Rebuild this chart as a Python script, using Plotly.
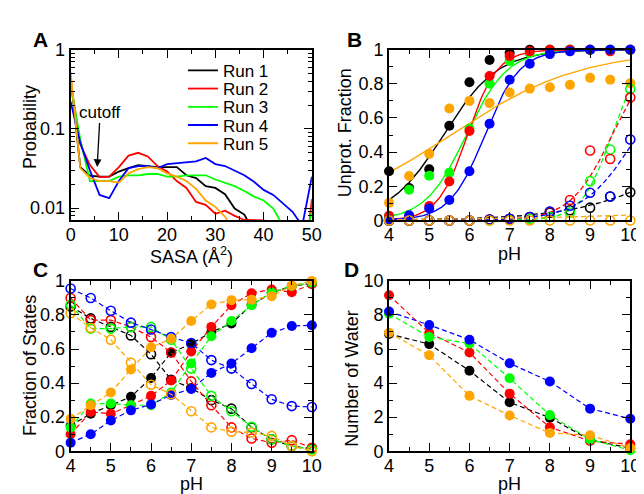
import plotly.graph_objects as go
import numpy as np

W, H = 644, 494
FONT = "Liberation Sans, Arial, Helvetica, sans-serif"

colors = ["#000000", "#ff0000", "#00ff00", "#0000ff", "#ffa500"]
run_names = ["Run 1", "Run 2", "Run 3", "Run 4", "Run 5"]

# ---------- Panel A: SASA probability ----------
sasa = [0, 2, 4, 6, 8, 10, 12, 14, 16, 18, 20, 22, 24, 26, 28, 30, 32, 34, 36, 38, 40, 42, 44, 46, 48, 50]
prob_run1 = [0.45, 0.033, 0.0257, 0.025, 0.025, 0.029, 0.032, 0.035, 0.034, 0.033, 0.033, 0.033, 0.026,
             0.024, 0.019, 0.018, 0.015, 0.0099, 0.0083, 0.005, 0.002, 0.002, 0.002, 0.002, 0.002, 0.005]
prob_run2 = [0.40, 0.064, 0.035, 0.0247, 0.025, 0.033, 0.046, 0.050, 0.045, 0.034, 0.029, 0.022, 0.018,
             0.012, 0.011, 0.0085, 0.0093, 0.0080, 0.0071, 0.0071, 0.007, 0.002, 0.001, 0.001, 0.001, 0.013]
prob_run3 = [0.35, 0.074, 0.022, 0.022, 0.022, 0.025, 0.026, 0.026, 0.027, 0.027, 0.025, 0.025, 0.026,
             0.026, 0.026, 0.023, 0.021, 0.019, 0.0165, 0.014, 0.0125, 0.0099, 0.006, 0.003, 0.003, 0.009]
prob_run4 = [0.22, 0.067, 0.030, 0.0147, 0.0134, 0.022, 0.032, 0.034, 0.034, 0.032, 0.036, 0.037, 0.038,
             0.039, 0.043, 0.036, 0.034, 0.030, 0.026, 0.0215, 0.017, 0.0147, 0.0114, 0.009, 0.006, 0.025]
prob_run5 = [0.52, 0.032, 0.024, 0.022, 0.022, 0.021, 0.0275, 0.031, 0.033, 0.032, 0.0275, 0.025, 0.022,
             0.0175, 0.0125, 0.0104, 0.0078, 0.005, 0.002, 0.002, 0.002, 0.002, 0.002, 0.002, 0.002, 0.004]
prob_runs = [prob_run1, prob_run2, prob_run3, prob_run4, prob_run5]
cutoff_sasa = 5.5
cutoff_prob = 0.033

# ---------- Panel B: unprotonated fraction ----------
ph_b = [4, 4.5, 5, 5.5, 6, 6.5, 7, 7.5, 8, 8.5, 9, 9.5, 10]
unprot1_run1 = [0.288, 0.19, 0.30, 0.554, 0.809, 0.94, 0.98, 1.0, 1.0, 1.0, 1.0, 1.0, 1.0]
unprot1_run2 = [0.028, 0.02, 0.084, 0.228, 0.524, 0.846, 0.963, 0.99, 1.0, 1.0, 1.0, 0.99, 1.0]
unprot1_run3 = [0.025, 0.18, 0.262, 0.28, 0.537, 0.80, 0.934, 0.98, 1.0, 1.0, 1.0, 1.0, 1.0]
unprot1_run4 = [0.0, 0.03, 0.07, 0.12, 0.288, 0.566, 0.824, 0.918, 0.974, 0.99, 1.0, 1.0, 1.0]
unprot1_run5 = [0.103, 0.26, 0.39, 0.655, 0.70, 0.687, 0.749, 0.772, 0.78, 0.794, 0.835, 0.824, 0.803]
unprot1 = [unprot1_run1, unprot1_run2, unprot1_run3, unprot1_run4, unprot1_run5]

unprot2_run1 = [0, 0, 0, 0, 0, 0.005, 0.01, 0.02, 0.045, 0.06, 0.075, 0.14, 0.165]
unprot2_run2 = [0, 0, 0, 0, 0, 0.005, 0.01, 0.02, 0.05, 0.12, 0.41, 0.36, 0.72]
unprot2_run3 = [0, 0, 0, 0, 0, 0, 0.005, 0.01, 0.02, 0.047, 0.23, 0.415, 0.77]
unprot2_run4 = [0, 0, 0, 0, 0, 0.005, 0.01, 0.02, 0.052, 0.086, 0.162, 0.14, 0.474]
unprot2_run5 = [0, 0, 0, 0, 0, 0, 0, 0, 0, 0, 0, 0, 0]
unprot2 = [unprot2_run1, unprot2_run2, unprot2_run3, unprot2_run4, unprot2_run5]

# Henderson-Hasselbalch fit parameters (pKa, Hill coefficient) per run
fit1_pka = [5.35, 5.95, 5.92, 6.38, 5.53]
fit1_hill = [0.64, 1.17, 0.85, 1.0, 0.268]
fit2_pka = [12.27, 9.55, 9.54, 10.18, 20.8]
fit2_hill = [0.31, 0.84, 1.14, 0.65, 0.137]

# ---------- Panel C: fraction of states ----------
ph_c = [4, 4.5, 5, 5.5, 6, 6.5, 7, 7.5, 8, 8.5, 9, 9.5, 10]
state_a_run1 = [0.15, 0.22, 0.27, 0.32, 0.43, 0.58, 0.63, 0.70, 0.75, 0.86, 0.93, 0.97, 0.985]
state_a_run2 = [0.10, 0.23, 0.22, 0.27, 0.325, 0.415, 0.585, 0.73, 0.857, 0.928, 0.95, 0.934, 0.98]
state_a_run3 = [0.14, 0.28, 0.28, 0.27, 0.27, 0.345, 0.515, 0.675, 0.765, 0.857, 0.932, 0.97, 0.99]
state_a_run4 = [0.05, 0.10, 0.18, 0.24, 0.275, 0.33, 0.365, 0.46, 0.515, 0.605, 0.695, 0.735, 0.74]
state_a_run5 = [0.19, 0.27, 0.345, 0.48, 0.61, 0.66, 0.765, 0.862, 0.887, 0.89, 0.91, 0.972, 1.0]
state_a = [state_a_run1, state_a_run2, state_a_run3, state_a_run4, state_a_run5]

state_b_run1 = [0.85, 0.78, 0.73, 0.68, 0.57, 0.42, 0.37, 0.30, 0.25, 0.14, 0.07, 0.03, 0.015]
state_b_run2 = [0.90, 0.77, 0.77, 0.73, 0.67, 0.58, 0.41, 0.27, 0.14, 0.075, 0.05, 0.065, 0.02]
state_b_run3 = [0.86, 0.72, 0.72, 0.73, 0.73, 0.655, 0.485, 0.325, 0.235, 0.143, 0.07, 0.03, 0.01]
state_b_run4 = [0.955, 0.90, 0.825, 0.755, 0.715, 0.67, 0.635, 0.535, 0.485, 0.395, 0.305, 0.265, 0.26]
state_b_run5 = [0.81, 0.725, 0.655, 0.52, 0.39, 0.335, 0.235, 0.14, 0.115, 0.11, 0.09, 0.03, 0.0]
state_b = [state_b_run1, state_b_run2, state_b_run3, state_b_run4, state_b_run5]

# ---------- Panel D: number of water ----------
ph_d = [4, 5, 6, 7, 8, 9, 10]
water_run1 = [6.89, 6.29, 4.73, 2.87, 1.97, 0.66, 0.19]
water_run2 = [9.16, 6.94, 5.80, 3.38, 1.41, 0.60, 0.41]
water_run3 = [8.07, 6.70, 6.32, 4.28, 2.12, 0.69, 0.06]
water_run4 = [8.20, 7.41, 6.55, 5.16, 4.09, 2.50, 1.91]
water_run5 = [6.96, 5.63, 3.25, 2.10, 1.07, 0.94, 0.19]
water = [water_run1, water_run2, water_run3, water_run4, water_run5]

# ---------- figure ----------
fig = go.Figure()
DASH = "5px,3px"
MS = 10
legend_ids = ["legend", "legend2", "legend3", "legend4", "legend5"]
legend_rows = [55, 74, 93, 112, 131]

for i in range(5):
    fig.add_trace(go.Scatter(x=sasa, y=prob_runs[i], mode="lines", name=run_names[i],
                             line=dict(color=colors[i], width=1.8), xaxis="x", yaxis="y",
                             showlegend=True, legend=legend_ids[i]))

ph_fine = np.linspace(4, 10, 241)
order_b = [0, 2, 1, 3, 4]
for i in order_b:
    f1 = 1.0 / (1.0 + 10 ** (fit1_hill[i] * (fit1_pka[i] - ph_fine)))
    fig.add_trace(go.Scatter(x=ph_fine, y=f1, mode="lines", line=dict(color=colors[i], width=1.4),
                             xaxis="x2", yaxis="y2", showlegend=False, hoverinfo="skip"))
    f2 = 1.0 / (1.0 + 10 ** (fit2_hill[i] * (fit2_pka[i] - ph_fine)))
    fig.add_trace(go.Scatter(x=ph_fine, y=f2, mode="lines", line=dict(color=colors[i], width=1.3, dash=DASH),
                             xaxis="x2", yaxis="y2", showlegend=False, hoverinfo="skip"))
for i in order_b:
    fig.add_trace(go.Scatter(x=ph_b, y=unprot1[i], mode="markers",
                             marker=dict(color=colors[i], size=MS, symbol="circle"),
                             xaxis="x2", yaxis="y2", showlegend=False, cliponaxis=False))
for i in order_b:
    fig.add_trace(go.Scatter(x=ph_b, y=unprot2[i], mode="markers",
                             marker=dict(color=colors[i], size=MS - 1, symbol="circle-open", line=dict(width=1.6)),
                             xaxis="x2", yaxis="y2", showlegend=False, cliponaxis=False))

for i in range(5):
    fig.add_trace(go.Scatter(x=ph_c, y=state_b[i], mode="lines+markers",
                             line=dict(color=colors[i], width=1.2, dash=DASH),
                             marker=dict(color=colors[i], size=MS - 1, symbol="circle-open", line=dict(width=1.6)),
                             xaxis="x3", yaxis="y3", showlegend=False, cliponaxis=False))
    fig.add_trace(go.Scatter(x=ph_c, y=state_a[i], mode="lines+markers",
                             line=dict(color=colors[i], width=1.2, dash=DASH),
                             marker=dict(color=colors[i], size=MS, symbol="circle"),
                             xaxis="x3", yaxis="y3", showlegend=False, cliponaxis=False))

for i in range(5):
    fig.add_trace(go.Scatter(x=ph_d, y=water[i], mode="lines+markers",
                             line=dict(color=colors[i], width=1.2, dash=DASH),
                             marker=dict(color=colors[i], size=MS, symbol="circle"),
                             xaxis="x4", yaxis="y4", showlegend=False, cliponaxis=False))


def px(x):
    return x / W


def py(y):
    return 1 - y / H


dom_x_left = [px(59), px(306)]
dom_x_right = [px(385), px(632)]
dom_y_top = [py(211), py(33)]
dom_y_bot = [py(451.5), py(274)]

TICKFONT = dict(family=FONT, size=18, color="black")
axis_common = dict(showline=True, linecolor="black", linewidth=2, mirror="allticks",
                   ticks="inside", ticklen=8, tickwidth=1.3, tickcolor="black",
                   showgrid=False, zeroline=False, tickfont=TICKFONT)
minor_common = dict(ticks="inside", ticklen=4, tickwidth=1.2, tickcolor="black", showgrid=False)
XSO = -3

legend_cfg = {}
for i in range(5):
    legend_cfg[legend_ids[i]] = dict(x=px(174), y=py(legend_rows[i]), xanchor="left", yanchor="middle",
                                     bgcolor="rgba(0,0,0,0)", borderwidth=0,
                                     font=dict(family=FONT, size=17, color="black"), itemwidth=30)

fig.update_layout(
    xaxis=dict(domain=dom_x_left, anchor="y", range=[0, 50], tickmode="array",
               tickvals=[0, 10, 20, 30, 40, 50], minor=dict(dtick=5, **minor_common),
               ticklabelstandoff=XSO, **axis_common),
    yaxis=dict(domain=dom_y_top, anchor="x", type="log", range=[np.log10(0.007), 0],
               tickmode="array", tickvals=[0.01, 0.1, 1], ticktext=["0.01", "0.1", "1"],
               minor=dict(tickmode="array",
                          tickvals=[0.008, 0.009, 0.02, 0.03, 0.04, 0.05, 0.06, 0.07, 0.08, 0.09,
                                    0.2, 0.3, 0.4, 0.5, 0.6, 0.7, 0.8, 0.9], **minor_common),
               **axis_common),
    xaxis2=dict(domain=dom_x_right, anchor="y2", range=[4, 10], dtick=1, tick0=4,
                minor=dict(dtick=0.5, **minor_common), ticklabelstandoff=XSO, **axis_common),
    yaxis2=dict(domain=dom_y_top, anchor="x2", range=[0, 1], dtick=0.2, tick0=0,
                minor=dict(dtick=0.1, **minor_common), **axis_common),
    xaxis3=dict(domain=dom_x_left, anchor="y3", range=[4, 10], dtick=1, tick0=4,
                minor=dict(dtick=0.5, **minor_common), ticklabelstandoff=XSO, **axis_common),
    yaxis3=dict(domain=dom_y_bot, anchor="x3", range=[0, 1], dtick=0.2, tick0=0,
                minor=dict(dtick=0.1, **minor_common), **axis_common),
    xaxis4=dict(domain=dom_x_right, anchor="y4", range=[4, 10], dtick=1, tick0=4,
                minor=dict(dtick=0.5, **minor_common), ticklabelstandoff=XSO, **axis_common),
    yaxis4=dict(domain=dom_y_bot, anchor="x4", range=[0, 10], dtick=2, tick0=0,
                minor=dict(dtick=1, **minor_common), **axis_common),
    width=W, height=H, margin=dict(l=0, r=0, t=0, b=0),
    paper_bgcolor="white", plot_bgcolor="white",
    font=dict(family=FONT, size=17, color="black"),
    showlegend=True,
    **legend_cfg,
)

TITLE = dict(family=FONT, size=18, color="black")
ann = []


def add_text(x, y, text, angle=0, font=TITLE):
    ann.append(dict(x=px(x), y=py(y), xref="paper", yref="paper", text=text, showarrow=False,
                    textangle=angle, font=font, xanchor="center", yanchor="middle", borderpad=0))


add_text(18, 114, "Probability", -90)
add_text(183, 247, "SASA (Å<sup>2</sup>)")
add_text(340, 120, "Unprot. Fraction", -90)
add_text(508, 246, "pH")
add_text(18, 362, "Fraction of States", -90)
add_text(183, 486, "pH")
add_text(347, 376, "Number of Water", -90)
add_text(508, 486, "pH")

PANEL = dict(family=FONT, size=21, color="black")
add_text(28, 22, "<b>A</b>", font=PANEL)
add_text(350, 22, "<b>B</b>", font=PANEL)
add_text(28, 262, "<b>C</b>", font=PANEL)
add_text(347, 262, "<b>D</b>", font=PANEL)

ann.append(dict(x=cutoff_sasa, y=np.log10(cutoff_prob), xref="x", yref="y", text="cutoff", showarrow=True,
                ax=3, ay=-55, arrowhead=2, arrowsize=1.2, arrowwidth=1.3, arrowcolor="black",
                font=dict(family=FONT, size=17, color="black"), standoff=0))

fig.update_layout(annotations=ann)
fig.write_html("out.html")
